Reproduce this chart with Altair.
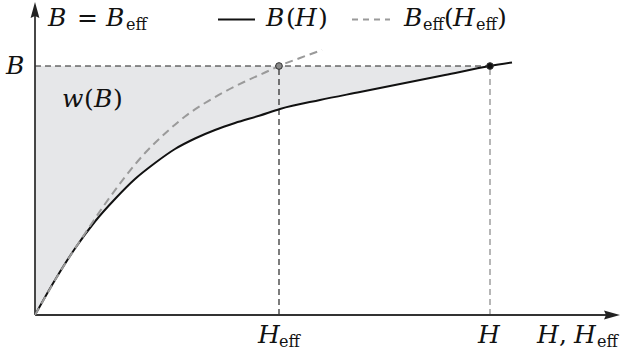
import altair as alt
import pandas as pd

# ---- data ----
H_vals = [0, 0.4, 0.8, 1.2, 1.6, 2.0, 2.4, 2.8, 3.2, 3.6, 4.0, 4.5, 4.9, 5.7, 6.5, 7.3, 8.2, 9.1, 9.54]
B_vals = [0, 0.70, 1.33, 1.87, 2.32, 2.72, 3.04, 3.32, 3.53, 3.70, 3.84, 3.99, 4.12, 4.30, 4.46, 4.62, 4.80, 4.98, 5.05]
Heff_vals = [0, 0.5, 1.0, 1.4, 1.8, 2.2, 2.6, 3.0, 3.4, 3.8, 4.2, 4.6, 4.88, 5.3, 5.74]
Beff_vals = [0, 0.86, 1.63, 2.22, 2.76, 3.24, 3.63, 3.97, 4.24, 4.47, 4.67, 4.85, 4.98, 5.14, 5.30]
B_level = 4.98
H_op = 9.1
Heff_op = 4.88
x_axis_end = 11.54
y_axis_end = 6.10

# ---- scales ----
XS = alt.Scale(domain=[-0.7, 11.78], nice=False, zero=False)
YS = alt.Scale(domain=[-0.82, 6.3], nice=False, zero=False)


def X(f="x"):
    return alt.X(f"{f}:Q", scale=XS, axis=None)


def Y(f="y"):
    return alt.Y(f"{f}:Q", scale=YS, axis=None)


# pixel helpers for annotation placement
def px(v):
    return (v - 35) / 50.0


def py(v):
    return (315 - v) / 50.0


solid = pd.DataFrame({"x": H_vals, "y": B_vals})
dashed = pd.DataFrame({"x": Heff_vals, "y": Beff_vals})
area_df = solid[solid.x <= H_op + 1e-9].assign(y2=B_level)

area = alt.Chart(area_df).mark_area(color="#e6e7e9", opacity=1, interpolate="monotone").encode(
    x=X(), y=Y(), y2="y2:Q")

guides = pd.DataFrame({
    "x": [0, Heff_op, H_op],
    "x2": [H_op, Heff_op, H_op],
    "y": [B_level, 0, 0],
    "y2": [B_level, B_level, B_level],
    "c": ["#222222", "#111111", "#7a7a7a"],
})
guide_rules = alt.Chart(guides).mark_rule(strokeWidth=1.1, strokeDash=[6, 4]).encode(
    x=X(), x2="x2:Q", y=Y(), y2="y2:Q", color=alt.Color("c:N", scale=None))

axes_df = pd.DataFrame({"x": [0, 0], "x2": [0, x_axis_end], "y": [0, 0], "y2": [y_axis_end, 0]})
axes = alt.Chart(axes_df).mark_rule(strokeWidth=1.8, color="#333333").encode(
    x=X(), x2="x2:Q", y=Y(), y2="y2:Q")

arr_up = alt.Chart(pd.DataFrame({"x": [0], "y": [y_axis_end]})).mark_point(
    shape="M0,-1L0.55,1L0,0.75L-0.55,1Z", filled=True, size=256, color="#222222", opacity=1
).encode(x=X(), y=Y())
arr_right = alt.Chart(pd.DataFrame({"x": [x_axis_end], "y": [0]})).mark_point(
    shape="M1,0L-1,0.55L-0.75,0L-1,-0.55Z", filled=True, size=256, color="#222222", opacity=1
).encode(x=X(), y=Y())

line_solid = alt.Chart(solid).mark_line(color="#111111", strokeWidth=2, interpolate="monotone").encode(
    x=X(), y=Y(), order="x:Q")
line_dashed = alt.Chart(dashed).mark_line(color="#9a9a9a", strokeWidth=2, strokeDash=[8, 5],
                                          interpolate="monotone").encode(x=X(), y=Y(), order="x:Q")

pts = pd.DataFrame({"x": [Heff_op, H_op], "y": [B_level, B_level], "c": ["#8a8a8a", "#111111"]})
points = alt.Chart(pts).mark_point(filled=True, size=45, opacity=1, stroke="#333333", strokeWidth=1).encode(
    x=X(), y=Y(), fill=alt.Fill("c:N", scale=None))

leg = pd.DataFrame({"x": [px(218), px(352)], "x2": [px(255), px(390)], "y": [py(19.5), py(19.5)]})
leg_solid = alt.Chart(leg.iloc[[0]]).mark_rule(color="#111111", strokeWidth=2).encode(
    x=X(), x2="x2:Q", y=Y())
leg_dash = alt.Chart(leg.iloc[[1]]).mark_rule(color="#9a9a9a", strokeWidth=2, strokeDash=[6, 5]).encode(
    x=X(), x2="x2:Q", y=Y())

# ---- text annotations ----
ital = [("B", 48, 26), ("B", 106, 26), ("B", 266, 26), ("H", 295, 26), ("B", 404, 26), ("H", 453, 26),
        ("B", 6, 74), ("w", 62, 107), ("B", 94, 107), ("H", 258, 343), ("H", 478, 343),
        ("H", 537, 343), ("H", 574, 343)]
upr = [("=", 77, 26), ("(", 286, 26), (")", 318, 26), ("(", 444, 26), (")", 497, 26),
       ("(", 84, 107), (")", 113, 107), (",", 559, 343)]
subs = [("eff", 126, 30), ("eff", 423, 30), ("eff", 476, 30), ("eff", 279, 347), ("eff", 597, 347)]


def tdf(lst):
    return pd.DataFrame({"t": [a for a, _, _ in lst], "x": [px(b) for _, b, _ in lst],
                         "y": [py(c) for _, _, c in lst]})


FONT = "DejaVu Serif"
t_it = alt.Chart(tdf(ital)).mark_text(font=FONT, fontStyle="italic", fontSize=25, align="left",
                                      baseline="alphabetic", color="#111111").encode(x=X(), y=Y(), text="t:N")
t_up = alt.Chart(tdf(upr)).mark_text(font=FONT, fontSize=25, align="left",
                                     baseline="alphabetic", color="#111111").encode(x=X(), y=Y(), text="t:N")
t_sub = alt.Chart(tdf(subs)).mark_text(font=FONT, fontSize=16, align="left",
                                       baseline="alphabetic", color="#111111").encode(x=X(), y=Y(), text="t:N")

chart = alt.layer(area, guide_rules, axes, arr_up, arr_right, line_solid, line_dashed, points,
                  leg_solid, leg_dash, t_it, t_up, t_sub).properties(
    width=624, height=356, autosize=alt.AutoSizeParams(type="none"), padding=0,
    background="white").configure_view(stroke=None)

chart.save("out.html", embed_options={"renderer": "svg", "actions": False})
